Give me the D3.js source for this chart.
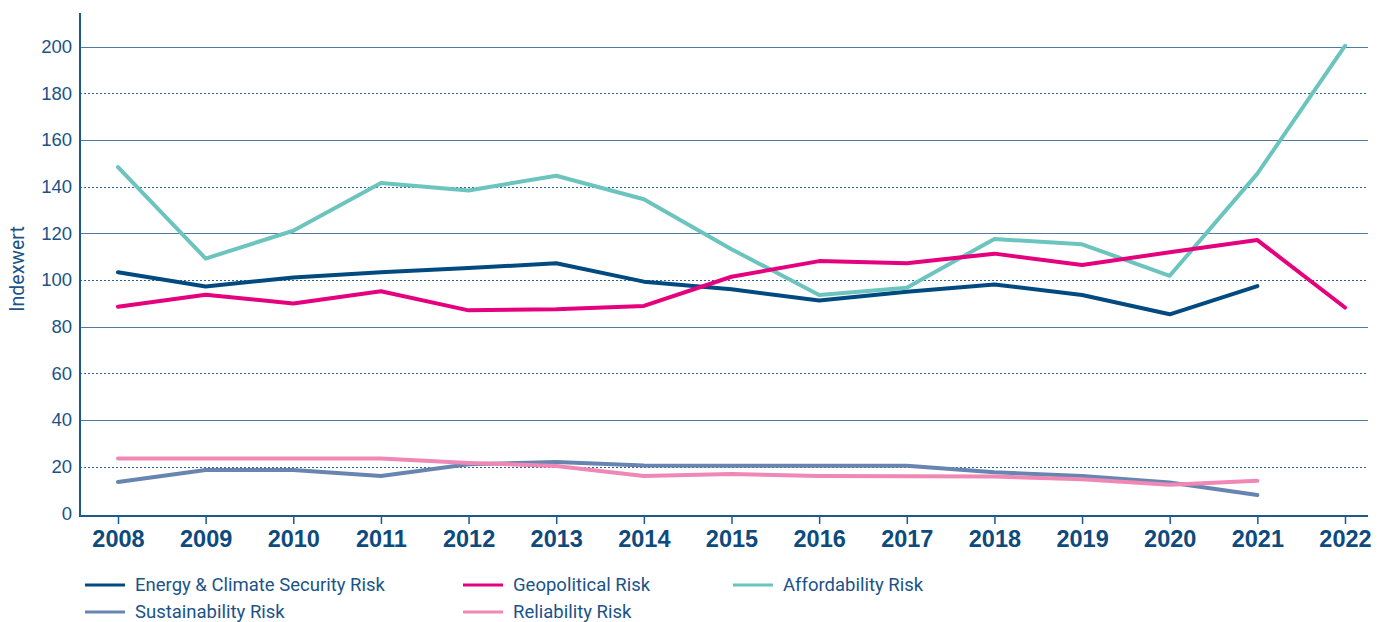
<!DOCTYPE html>
<html>
<head>
<meta charset="utf-8">
<script src="https://cdn.jsdelivr.net/npm/d3@7"></script>
<style>
    body { margin: 0; background: #fff; }
    svg { display: block; font-family: Roboto, "Noto Sans", sans-serif; }
</style>
</head>
<body>
<svg id="chart"></svg>
<script>
// data
const years = [2008, 2009, 2010, 2011, 2012, 2013, 2014, 2015, 2016, 2017, 2018, 2019, 2020, 2021, 2022];
const yTicks = [0, 20, 40, 60, 80, 100, 120, 140, 160, 180, 200];

const energyClimate = [103.3, 97.2, 101.1, 103.3, 105.1, 107.2, 99.3, 96.0, 91.2, 95.0, 98.1, 93.6, 85.3, 97.4, null];
const geopolitical = [88.5, 93.7, 89.9, 95.2, 87.0, 87.5, 88.9, 101.4, 108.1, 107.2, 111.3, 106.4, 111.9, 117.1, 88.2];
const affordability = [148.4, 109.2, 121.1, 141.6, 138.4, 144.7, 134.6, 113.2, 93.6, 96.7, 117.6, 115.3, 101.8, 145.6, 200.4];
const sustainability = [13.4, 18.6, 18.6, 16.0, 21.0, 22.0, 20.5, 20.4, 20.4, 20.4, 17.6, 16.0, 13.2, 7.8, null];
const reliability = [23.5, 23.5, 23.5, 23.5, 21.6, 20.3, 16.0, 16.8, 16.0, 15.9, 15.8, 14.6, 12.2, 13.9, null];

const seriesNames = ["Energy & Climate Security Risk", "Geopolitical Risk", "Affordability Risk", "Sustainability Risk", "Reliability Risk"];
const seriesColors = ["#004a7f", "#e5007d", "#6cc4bf", "#6785b0", "#ef88b5"];
const seriesValues = [energyClimate, geopolitical, affordability, sustainability, reliability];

const width = 1387, height = 622;
const svg = d3.select("#chart").attr("width", width).attr("height", height);

let x = d3.scaleLinear().domain([2008, 2022]).range([118, 1345]);
let y = d3.scaleLinear().domain([0, 200]).range([513.3, 46.7]);

const left = 80, right = 1368;

// grid: solid every 40, dotted in between
svg.append("g")
    .selectAll("line")
    .data(yTicks.filter(d => d > 0))
    .join("line")
    .attr("x1", left)
    .attr("x2", right)
    .attr("y1", d => Math.round(y(d)) + 0.5)
    .attr("y2", d => Math.round(y(d)) + 0.5)
    .attr("stroke", d => d % 40 == 0 ? "#4f7aa2" : "#2f6090")
    .attr("stroke-width", 1)
    .attr("stroke-dasharray", d => d % 40 == 0 ? null : "2,2");

// y axis
let yAxis = svg.append("g")
    .attr("transform", `translate(${left},0)`)
    .call(d3.axisLeft(y).tickValues(yTicks).tickSize(0).tickPadding(8));
yAxis.select(".domain").remove();
yAxis.selectAll("text")
    .attr("fill", "#1b5387")
    .style("font-size", "18.5px");

svg.append("line")
    .attr("x1", left).attr("x2", left)
    .attr("y1", 13).attr("y2", 517)
    .attr("stroke", "#1d5a8c")
    .attr("stroke-width", 2);

// x axis
let xAxis = svg.append("g")
    .attr("transform", "translate(0,516)")
    .call(d3.axisBottom(x).tickValues(years).tickFormat(d3.format("d")).tickSize(8).tickPadding(6));
xAxis.select(".domain")
    .attr("d", `M${left},0H${right}`)
    .attr("stroke", "#1d5a8c")
    .attr("stroke-width", 2);
xAxis.selectAll(".tick line")
    .attr("stroke", "#1d5a8c")
    .attr("stroke-width", 1.5);
xAxis.selectAll("text")
    .attr("fill", "#0d4a7e")
    .style("font-size", "23.5px")
    .style("font-weight", "bold");

// axis title
svg.append("text")
    .attr("transform", "translate(24,269) rotate(-90)")
    .attr("text-anchor", "middle")
    .attr("fill", "#1b5387")
    .style("font-size", "19.5px")
    .text("Indexwert");

// lines
let line = d3.line()
    .defined(d => d.v != null)
    .x(d => x(d.year))
    .y(d => y(d.v));

const drawOrder = [3, 4, 0, 2, 1];
drawOrder.forEach(i => {
    let pts = years.map((yr, j) => ({ year: yr, v: seriesValues[i][j] }));
    svg.append("path")
        .datum(pts)
        .attr("d", line)
        .attr("fill", "none")
        .attr("stroke", seriesColors[i])
        .attr("stroke-width", 4)
        .attr("stroke-linecap", "round")
        .attr("stroke-linejoin", "round");
});

// legend
const legendX = [85, 463, 733, 85, 463];
const legendY = [585, 585, 585, 612, 612];

let legend = svg.append("g")
    .selectAll("g")
    .data(seriesNames)
    .join("g")
    .attr("transform", (d, i) => `translate(${legendX[i]},${legendY[i]})`);

legend.append("line")
    .attr("x1", 0).attr("x2", 40)
    .attr("stroke", (d, i) => seriesColors[i])
    .attr("stroke-width", 3);

legend.append("text")
    .attr("x", 50)
    .attr("dy", "0.35em")
    .attr("fill", "#1b5387")
    .style("font-size", "18.5px")
    .text(d => d);
</script>
</body>
</html>
